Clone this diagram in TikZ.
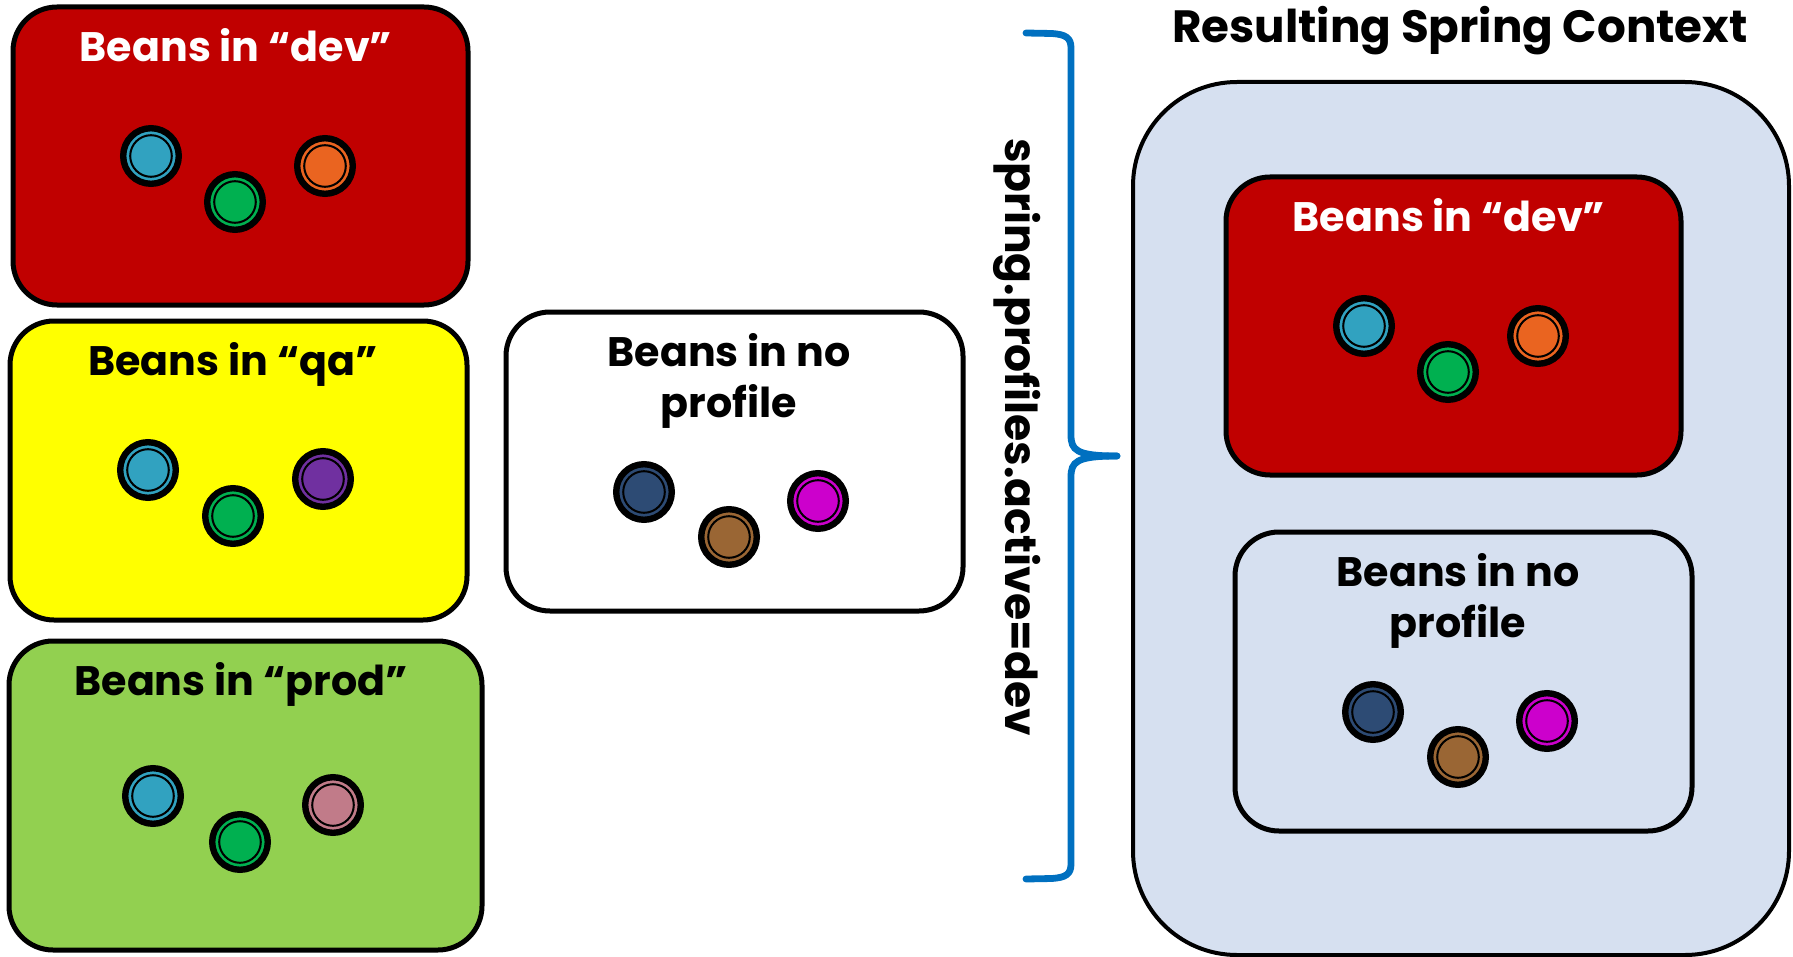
\documentclass[tikz,border=0pt]{standalone}
\usepackage{fontspec}
\setmainfont{Poppins}
\usetikzlibrary{calc}
\definecolor{devred}{HTML}{C00000}
\definecolor{qayel}{HTML}{FFFF00}
\definecolor{prodgreen}{HTML}{92D050}
\definecolor{ctxblue}{HTML}{D6E0F0}
\definecolor{bracecol}{HTML}{0070C0}
\definecolor{bblue}{HTML}{31A2C0}
\definecolor{bgreen}{HTML}{00B050}
\definecolor{borange}{HTML}{EA6420}
\definecolor{bpurple}{HTML}{7030A0}
\definecolor{bpink}{HTML}{C17B89}
\definecolor{bnavy}{HTML}{2D4B74}
\definecolor{bbrown}{HTML}{9A6634}
\definecolor{bmagenta}{HTML}{CC00CC}
\newcommand\mybean[3]{%
  \node[beanstyle, fill=#3] (#1) at (#2) {};
  \draw[line width=1pt] (#1.center) circle[radius=10.4pt];
}
\tikzset{
  profbox/.style={draw=black, line width=2.5pt, rounded corners=22pt},
  beanstyle/.style={circle, draw=black, line width=3.2pt, minimum size=27.8pt, inner sep=0pt},
  titletext/.style={font=\bfseries\fontsize{20.6}{25.5}\selectfont, anchor=base, align=center},
  bracestyle/.style={bracecol, line width=3.4pt, line cap=round},
}
\begin{document}
\begin{tikzpicture}[x=0.5pt,y=-0.5pt]
\useasboundingbox (0,0) rectangle (1793,957);
% left boxes
\draw[profbox, fill=devred] (13,7) rectangle (468,305);
\node[titletext, text=white] (devtitle) at (236,62) {Beans in “dev”};
\mybean{d1}{151,156}{bblue}
\mybean{d2}{235,202}{bgreen}
\mybean{d3}{325,166}{borange}

\draw[profbox, fill=qayel] (10,321) rectangle (467,620);
\node[titletext] (qatitle) at (233,375) {Beans in “qa”};
\mybean{q1}{148,470}{bblue}
\mybean{q2}{233,516}{bgreen}
\mybean{q3}{323,479}{bpurple}

\draw[profbox, fill=prodgreen] (9,641) rectangle (482,950);
\node[titletext] (prodtitle) at (241,695) {Beans in “prod”};
\mybean{p1}{153,796}{bblue}
\mybean{p2}{240,842}{bgreen}
\mybean{p3}{333,805}{bpink}

\draw[profbox, fill=white] (506,312) rectangle (963,611);
\node[titletext] (nptitle) at (729,366) {Beans in no};
\node[titletext] (nptitleb) at (729,417) {profile};
\mybean{n1}{644,492}{bnavy}
\mybean{n2}{729,537}{bbrown}
\mybean{n3}{818,501}{bmagenta}

% brace
\draw[bracestyle]
  (1026,33) -- (1052,33.5) .. controls (1066,34.5) and (1071,38) .. (1071,48)
  -- (1071,435) .. controls (1071,450) and (1076,456) .. (1117,456);
\draw[bracestyle]
  (1026,879) -- (1052,878.5) .. controls (1066,877.5) and (1071,874) .. (1071,864)
  -- (1071,477) .. controls (1071,462) and (1076,456) .. (1117,456);
\node[font=\bfseries\fontsize{22}{26}\selectfont, rotate=-90] (active) at (1017,437) {spring.profiles.active=dev};

% context
\node[font=\bfseries\fontsize{22.6}{28}\selectfont, anchor=base] (ctxtitle) at (1460,43) {Resulting Spring Context};
\draw[draw=black, line width=2pt, fill=ctxblue, rounded corners=52pt] (1133,82) rectangle (1789,955);

\draw[profbox, fill=devred] (1226,177) rectangle (1681,475);
\node[titletext, text=white] (cdevtitle) at (1449,232) {Beans in “dev”};
\mybean{cd1}{1364,326}{bblue}
\mybean{cd2}{1448,372}{bgreen}
\mybean{cd3}{1538,336}{borange}

\draw[profbox, fill=ctxblue] (1235,532) rectangle (1692,831);
\node[titletext] (cnptitle) at (1458,586) {Beans in no};
\node[titletext] (cnptitleb) at (1458,637) {profile};
\mybean{cn1}{1373,712}{bnavy}
\mybean{cn2}{1458,757}{bbrown}
\mybean{cn3}{1547,721}{bmagenta}
\end{tikzpicture}
\end{document}
